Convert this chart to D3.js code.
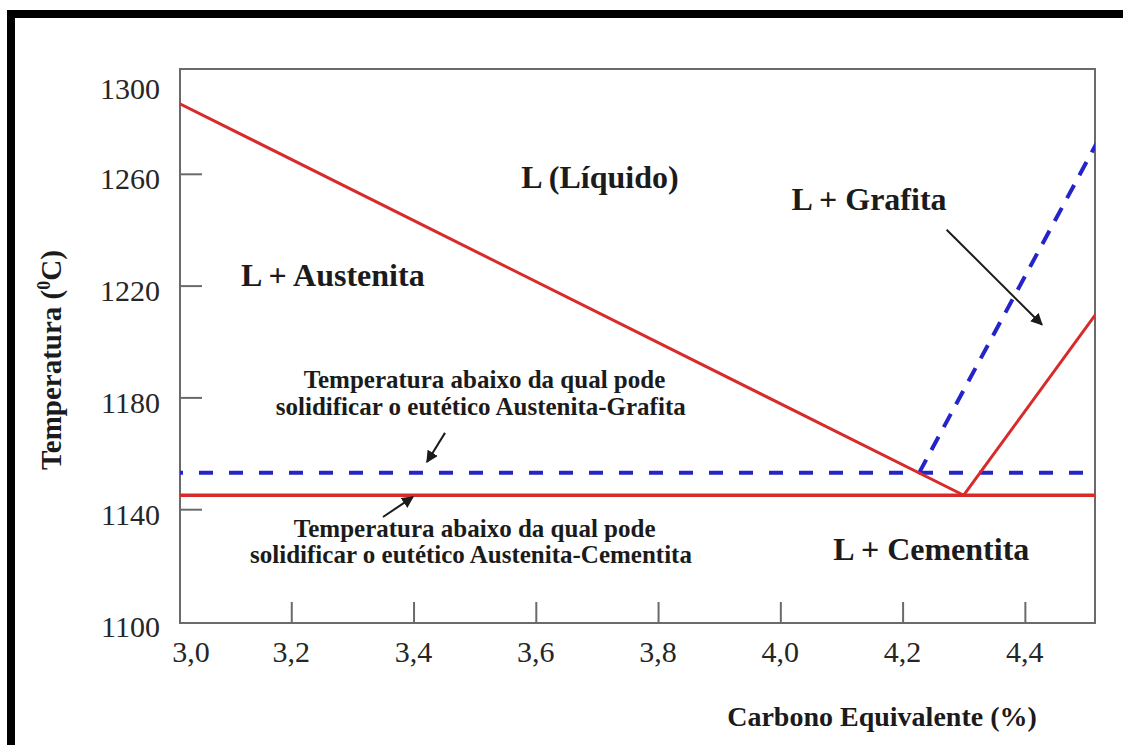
<!DOCTYPE html>
<html>
<head>
<meta charset="utf-8">
<script src="https://cdn.jsdelivr.net/npm/d3@7"></script>
<style>
  body { margin: 0; background: #fff; }
  svg { display: block; }
</style>
</head>
<body>
<svg id="chart" width="1123" height="745"></svg>
<script>
// Axis ticks
const carbonTicks = [3.0, 3.2, 3.4, 3.6, 3.8, 4.0, 4.2, 4.4];
const carbonTickLabels = ["3,0", "3,2", "3,4", "3,6", "3,8", "4,0", "4,2", "4,4"];
const tempTicks = [1100, 1140, 1180, 1220, 1260, 1300];
const tempTickLabels = ["1100", "1140", "1180", "1220", "1260", "1300"];

// Phase boundaries as [carbon equivalent %, temperature °C]
const liquidusAustenite = [[3.0, 1287], [4.3, 1145]];
const liquidusCementite = [[4.3, 1145], [4.52, 1211]];
const eutecticCementite = [[3.0, 1145], [4.52, 1145]];
const eutecticGraphite = [[3.0, 1153], [4.52, 1153]];
const liquidusGraphite = [[4.227, 1153], [4.52, 1272]];

// Phase-field labels and their anchors (carbon %, °C)
const regionNames = ["L (Líquido)", "L + Austenita", "L + Grafita", "L + Cementita"];
const regionAnchors = [[3.705, 1255], [3.268, 1220], [4.145, 1247], [4.247, 1122]];

// Notes on the two eutectic temperatures
const noteGraphite = ["Temperatura abaixo da qual pode", "solidificar o eutético Austenita-Grafita"];
const noteGraphiteAnchors = [[3.516, 1183.4], [3.51, 1173.7]];
const noteCementite = ["Temperatura abaixo da qual pode", "solidificar o eutético Austenita-Cementita"];
const noteCementiteAnchors = [[3.5, 1130], [3.494, 1120.8]];

// Pointer arrows (from, to)
const arrowGraphiteNote = [[3.4515, 1167.3], [3.422, 1156.9]];
const arrowCementiteNote = [[3.350, 1137.2], [3.399, 1144.4]];
const arrowGraphiteField = [[4.272, 1240], [4.428, 1206]];

const svg = d3.select("#chart");
const W = 1123, H = 745;
const plot = { left: 180, right: 1095, top: 69, bottom: 623 };

const x = d3.scaleLinear().domain([3.0, 4.5]).range([169, 1086]);
const y = d3.scaleLinear().domain([1100, 1300]).range([621, 62]);

const RED = "#d82a2a", BLUE = "#2424c8", AXIS = "#6a6a6a", INK = "#1b1b1b";
const serif = "'Liberation Serif', 'Times New Roman', serif";

// page background with heavy black border on top and left
svg.append("rect").attr("width", W).attr("height", H).attr("fill", "#fff");
svg.append("rect").attr("x", 7).attr("y", 10).attr("width", W - 7).attr("height", 8).attr("fill", "#000");
svg.append("rect").attr("x", 7).attr("y", 10).attr("width", 8).attr("height", H - 10).attr("fill", "#000");

// clip for plotted curves
const defs = svg.append("defs");
defs.append("clipPath").attr("id", "plotClip")
  .append("rect")
  .attr("x", plot.left).attr("y", plot.top)
  .attr("width", plot.right - plot.left).attr("height", plot.bottom - plot.top);

defs.append("marker")
  .attr("id", "arrowHead")
  .attr("viewBox", "0 0 10 10")
  .attr("refX", 9).attr("refY", 5)
  .attr("markerWidth", 6).attr("markerHeight", 6)
  .attr("markerUnits", "strokeWidth")
  .attr("orient", "auto")
  .append("path").attr("d", "M0,0 L10,5 L0,10 Z").attr("fill", INK);

// inward tick marks via d3 axes
const xAxis = d3.axisBottom(x)
  .tickValues(carbonTicks.filter(v => x(v) > plot.left + 5 && x(v) < plot.right - 5))
  .tickSizeInner(-21).tickSizeOuter(0).tickFormat("");
const gx = svg.append("g").attr("transform", `translate(0,${plot.bottom})`).call(xAxis);
gx.select(".domain").remove();
gx.selectAll("line").attr("stroke", AXIS).attr("stroke-width", 2);

const yAxis = d3.axisLeft(y)
  .tickValues(tempTicks.filter(v => y(v) > plot.top + 5 && y(v) < plot.bottom - 5))
  .tickSizeInner(-22).tickSizeOuter(0).tickFormat("");
const gy = svg.append("g").attr("transform", `translate(${plot.left},0)`).call(yAxis);
gy.select(".domain").remove();
gy.selectAll("line").attr("stroke", AXIS).attr("stroke-width", 2);

// frame
svg.append("rect")
  .attr("x", plot.left).attr("y", plot.top)
  .attr("width", plot.right - plot.left).attr("height", plot.bottom - plot.top)
  .attr("fill", "none").attr("stroke", AXIS).attr("stroke-width", 2);

// tick labels
svg.append("g").selectAll("text").data(tempTicks).join("text")
  .attr("x", 160)
  .attr("y", v => Math.max(y(v) + 5, plot.top + 19))
  .attr("dy", "0.35em")
  .attr("text-anchor", "end")
  .attr("font-family", serif).attr("font-size", 30).attr("fill", "#262626")
  .text((v, i) => tempTickLabels[i]);

svg.append("g").selectAll("text").data(carbonTicks).join("text")
  .attr("x", v => Math.max(x(v), plot.left + 11))
  .attr("y", 662)
  .attr("text-anchor", "middle")
  .attr("font-family", serif).attr("font-size", 30).attr("fill", "#262626")
  .text((v, i) => carbonTickLabels[i]);

// axis titles
svg.append("text")
  .attr("x", 882).attr("y", 726)
  .attr("text-anchor", "middle")
  .attr("font-family", serif).attr("font-weight", "bold").attr("font-size", 28).attr("fill", INK)
  .text("Carbono Equivalente (%)");

const yTitle = svg.append("text")
  .attr("transform", "translate(61,360) rotate(-90)")
  .attr("text-anchor", "middle")
  .attr("font-family", serif).attr("font-weight", "bold").attr("font-size", 29).attr("fill", INK);
yTitle.append("tspan").text("Temperatura (");
yTitle.append("tspan").attr("font-size", 18).attr("dy", -11).text("0");
yTitle.append("tspan").attr("dy", 11).text("C)");

// phase boundary curves
const line = d3.line().x(d => x(d[0])).y(d => y(d[1]));
const curves = svg.append("g").attr("clip-path", "url(#plotClip)");

curves.append("path").datum(eutecticGraphite).attr("d", line)
  .attr("fill", "none").attr("stroke", BLUE).attr("stroke-width", 4)
  .attr("stroke-dasharray", "14,16");
curves.append("path").datum(liquidusGraphite).attr("d", line)
  .attr("fill", "none").attr("stroke", BLUE).attr("stroke-width", 4)
  .attr("stroke-dasharray", "15,11");
curves.append("path").datum(eutecticCementite).attr("d", line)
  .attr("fill", "none").attr("stroke", RED).attr("stroke-width", 3.5);
curves.append("path").datum(liquidusAustenite).attr("d", line)
  .attr("fill", "none").attr("stroke", RED).attr("stroke-width", 3);
curves.append("path").datum(liquidusCementite).attr("d", line)
  .attr("fill", "none").attr("stroke", RED).attr("stroke-width", 3);

// phase-field labels
svg.append("g").selectAll("text").data(regionNames).join("text")
  .attr("x", (d, i) => x(regionAnchors[i][0]))
  .attr("y", (d, i) => y(regionAnchors[i][1]))
  .attr("text-anchor", "middle")
  .attr("font-family", serif).attr("font-weight", "bold").attr("font-size", 32).attr("fill", INK)
  .text(d => d);

// eutectic notes
function note(lines, anchors) {
  svg.append("g").selectAll("text").data(lines).join("text")
    .attr("x", (d, i) => x(anchors[i][0]))
    .attr("y", (d, i) => y(anchors[i][1]))
    .attr("text-anchor", "middle")
    .attr("font-family", serif).attr("font-weight", "bold").attr("font-size", 25).attr("fill", INK)
    .text(d => d);
}
note(noteGraphite, noteGraphiteAnchors);
note(noteCementite, noteCementiteAnchors);

// pointer arrows
[arrowGraphiteNote, arrowCementiteNote, arrowGraphiteField].forEach(a => {
  svg.append("path").datum(a).attr("d", line)
    .attr("fill", "none").attr("stroke", INK).attr("stroke-width", 2)
    .attr("marker-end", "url(#arrowHead)");
});
</script>
</body>
</html>
